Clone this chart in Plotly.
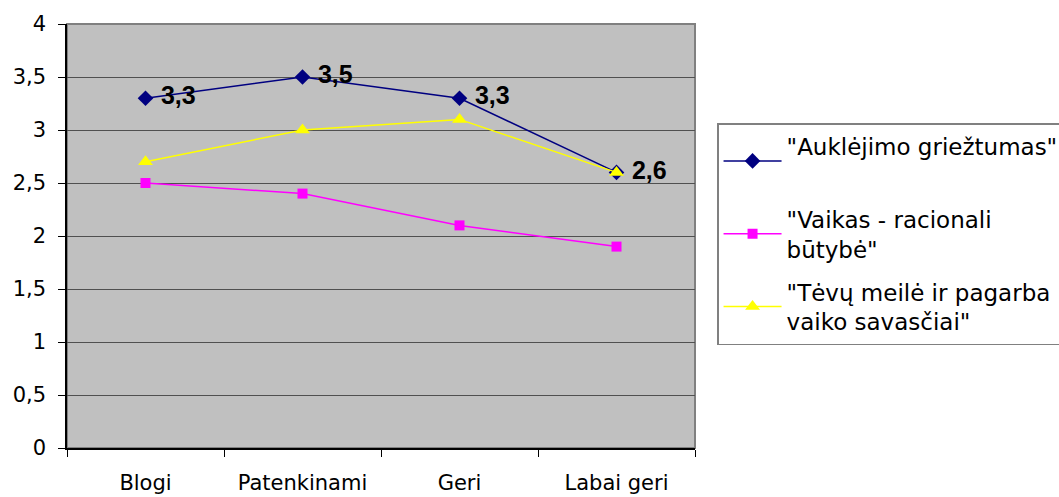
import plotly.graph_objects as go

categories = ["Blogi", "Patenkinami", "Geri", "Labai geri"]
series_names = [
    "\"Auklėjimo griežtumas\"<br>\u00a0",
    "\"Vaikas - racionali<br>būtybė\"",
    "\"Tėvų meilė ir pagarba<br>vaiko savasčiai\"",
]
auklejimo = [3.3, 3.5, 3.3, 2.6]
vaikas = [2.5, 2.4, 2.1, 1.9]
tevu = [2.7, 3.0, 3.1, 2.6]
y_ticks = [0, 0.5, 1, 1.5, 2, 2.5, 3, 3.5, 4]

FONT = "DejaVu Sans, sans-serif"
BOLD_FONT = "Liberation Sans, Arial, sans-serif"

def fmt(v):
    return f"{v:g}".replace(".", ",")

fig = go.Figure()
fig.add_trace(go.Scatter(
    x=categories, y=auklejimo, name=series_names[0], mode="lines+markers+text",
    legendgroup="a",
    line=dict(color="#000080", width=1.5),
    marker=dict(symbol="diamond", size=12, color="#000080"),
    text=[fmt(v) for v in auklejimo], texttemplate=" %{text}",
    textposition="middle right",
    textfont=dict(family=BOLD_FONT, size=25, color="black", weight="bold"),
))
fig.add_trace(go.Scatter(
    x=categories, y=vaikas, name=series_names[1], mode="lines+markers",
    legendgroup="b",
    line=dict(color="#FF00FF", width=1.5),
    marker=dict(symbol="square", size=10, color="#FF00FF"),
))
fig.add_trace(go.Scatter(
    x=categories, y=tevu, name=series_names[2], mode="lines+markers",
    legendgroup="c",
    line=dict(color="#FFFF00", width=1.5),
    marker=dict(symbol="triangle-up", size=13, color="#FFFF00"),
))

fig.update_layout(
    width=1059, height=497,
    margin=dict(l=67, r=364, t=24, b=49),
    paper_bgcolor="white", plot_bgcolor="#C0C0C0",
    font=dict(family=FONT, size=21, color="black"),
    showlegend=True,
    legend=dict(
        xref="container", yref="container",
        x=0.6771, y=0.7525, xanchor="left", yanchor="top",
        bordercolor="#808080", borderwidth=1.5, bgcolor="white",
        font=dict(family=FONT, size=23, color="black"),
        tracegroupgap=10, itemwidth=58,
    ),
    shapes=[dict(type="rect", xref="paper", yref="paper", x0=0, x1=1, y0=0, y1=1,
                 line=dict(color="#808080", width=2), layer="below")],
)
fig.update_xaxes(
    type="category", range=[-0.5, 3.5], showgrid=False, automargin=False,
    showline=True, linecolor="black", linewidth=1.5,
    ticks="outside", tickson="boundaries", ticklen=7, tickcolor="black",
    ticklabelstandoff=15,
    tickfont=dict(family=FONT, size=21),
)
fig.update_yaxes(
    range=[0, 4], tickvals=y_ticks, ticktext=[fmt(v) for v in y_ticks],
    showgrid=True, gridcolor="#505050", gridwidth=1.2, automargin=False,
    showline=True, linecolor="black", linewidth=1.5,
    ticks="outside", ticklen=7, tickcolor="black", ticklabelstandoff=8,
    tickfont=dict(family=FONT, size=21), zeroline=False,
)

fig.write_html(
    "out.html",
    config={"displayModeBar": False},
    post_script="document.body.style.margin='0';document.body.style.overflow='hidden';",
)
